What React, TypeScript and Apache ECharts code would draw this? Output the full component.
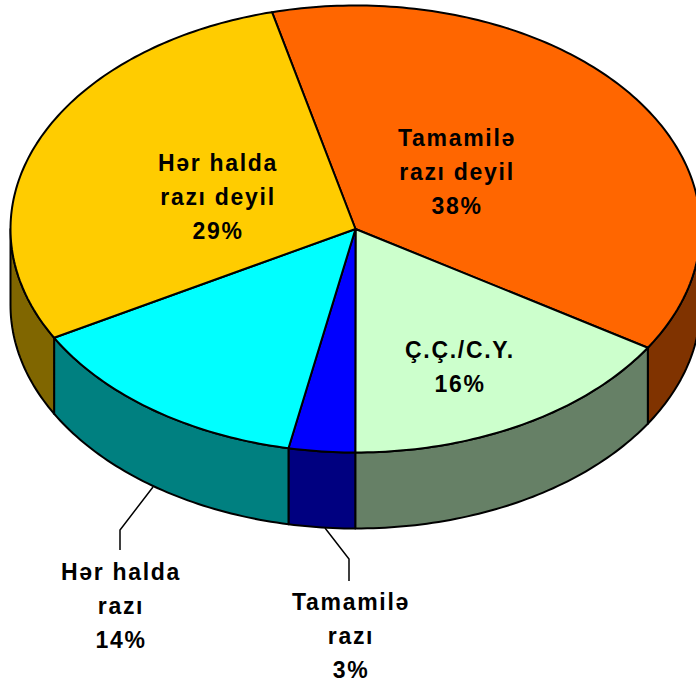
import React, { useEffect, useRef } from "react";
import * as echarts from "echarts";

const categories = ["Tamamilə razı deyil", "Ç.Ç./C.Y.", "Tamamilə razı", "Hər halda razı", "Hər halda razı deyil"];
const shares = [37.8, 16.1, 3.1, 13.8, 29.2];
const topColors = ["#FF6600", "#CCFFCC", "#0000FF", "#00FFFF", "#FFCC00"];
const wallColors = ["#803300", "#668066", "#000080", "#008080", "#806600"];
const labelTexts = ["Tamamilə\nrazı deyil\n38%", "Ç.Ç./C.Y.\n16%", "Tamamilə\nrazı\n3%", "Hər halda\nrazı\n14%", "Hər halda\nrazı deyil\n29%"];
const labelSpots = [[457, 172], [460, 367], [351, 636], [121, 606], [218, 197]];
const leaderLines = [
  [[153, 487], [120, 530], [120, 550]],
  [[325, 528], [349, 559], [349, 581]],
];

const CX = 355.5, CY = 229, RX = 345, RY = 223.5, DEPTH = 76, START = -14;
const total = shares.reduce((a, b) => a + b, 0);
const rad = (d: number) => (d * Math.PI) / 180;
const pt = (a: number, dy = 0) => [CX + RX * Math.sin(rad(a)), CY - RY * Math.cos(rad(a)) + dy];
const arc = (a0: number, a1: number, dy = 0) => {
  const out: number[][] = [];
  const n = Math.max(2, Math.ceil(Math.abs(a1 - a0)));
  for (let i = 0; i <= n; i++) out.push(pt(a0 + ((a1 - a0) * i) / n, dy));
  return out;
};

const renderItem = (params: any, api: any) => {
  const idx = params.dataIndex;
  const before = shares.slice(0, idx).reduce((a, b) => a + b, 0);
  const a0 = START + (before / total) * 360;
  const a1 = a0 + (api.value(0) / total) * 360;
  const children: any[] = [];
  const w0 = Math.max(a0, 90), w1 = Math.min(a1, 270);
  const strokeStyle = { stroke: "#000", lineWidth: 2, lineJoin: "round" };
  if (w1 > w0) {
    children.push({
      type: "polygon",
      shape: { points: [...arc(w0, w1), ...arc(w1, w0, DEPTH)] },
      style: { fill: wallColors[idx], ...strokeStyle },
    });
  }
  children.push({
    type: "polygon",
    shape: { points: [[CX, CY], ...arc(a0, a1)] },
    style: { fill: topColors[idx], ...strokeStyle },
  });
  return { type: "group", children };
};

export default function App() {
  const ref = useRef<HTMLDivElement>(null);
  useEffect(() => {
    document.body.style.margin = "0";
    const chart = echarts.init(ref.current!, undefined, { renderer: "svg" });
    chart.setOption({
      animation: false,
      backgroundColor: "#fff",
      series: [
        {
          type: "custom",
          coordinateSystem: "none",
          clip: false,
          silent: true,
          renderItem,
          data: shares.map((v, i) => ({ name: categories[i], value: [v] })),
        },
      ],
      graphic: [
        ...leaderLines.map((points) => ({
          type: "polyline",
          z: 50,
          shape: { points },
          style: { stroke: "#000", lineWidth: 1.5, fill: "none" },
        })),
        ...labelTexts.map((text, i) => ({
          type: "text",
          z: 100,
          x: labelSpots[i][0],
          y: labelSpots[i][1],
          style: {
            text,
            fill: "#000",
            font: 'bold 23px "Liberation Sans", Arial, sans-serif',
            lineHeight: 34,
            align: "center",
            verticalAlign: "middle",
          },
        })),
      ],
    });
    return () => chart.dispose();
  }, []);
  return <div ref={ref} style={{ width: 696, height: 682, letterSpacing: "1.7px" }} />;
}
